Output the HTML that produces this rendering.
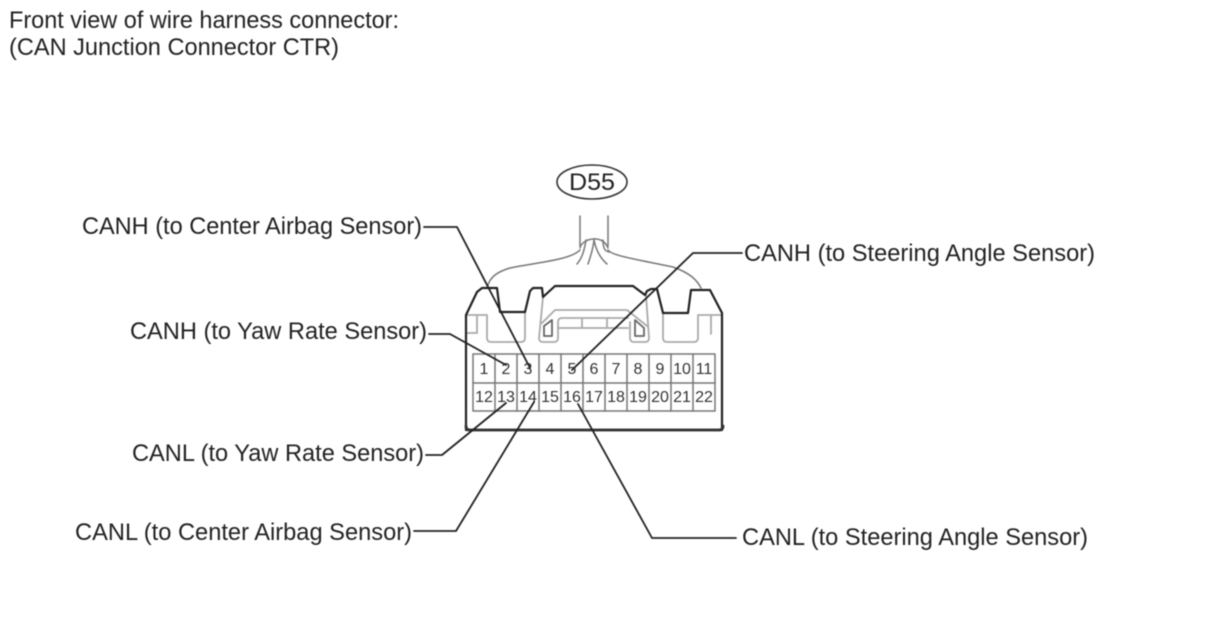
<!DOCTYPE html>
<html><head><meta charset="utf-8"><style>
html,body{margin:0;padding:0;background:#fff;width:1208px;height:644px;overflow:hidden}
svg{display:block;filter:blur(.5px)}
text{font-family:"Liberation Sans",sans-serif;fill:#222}
.l{font-size:24px}
.n{font-size:16px;text-anchor:middle;fill:#333}
</style></head><body>
<svg width="1208" height="644" viewBox="0 0 1208 644" fill="none" stroke-linejoin="round" stroke-linecap="round">
<text class="l" x="9" y="28" textLength="390" lengthAdjust="spacingAndGlyphs">Front view of wire harness connector:</text>
<text class="l" x="9" y="55" textLength="330" lengthAdjust="spacingAndGlyphs">(CAN Junction Connector CTR)</text>
<text class="l" x="82" y="234" textLength="340" lengthAdjust="spacingAndGlyphs">CANH (to Center Airbag Sensor)</text>
<text class="l" x="130" y="339" textLength="297" lengthAdjust="spacingAndGlyphs">CANH (to Yaw Rate Sensor)</text>
<text class="l" x="132" y="461" textLength="292" lengthAdjust="spacingAndGlyphs">CANL (to Yaw Rate Sensor)</text>
<text class="l" x="75" y="540" textLength="337" lengthAdjust="spacingAndGlyphs">CANL (to Center Airbag Sensor)</text>
<text class="l" x="744" y="261" textLength="351" lengthAdjust="spacingAndGlyphs">CANH (to Steering Angle Sensor)</text>
<text class="l" x="742" y="545" textLength="346" lengthAdjust="spacingAndGlyphs">CANL (to Steering Angle Sensor)</text>
<ellipse cx="592" cy="182" rx="35" ry="17" stroke="#333" stroke-width="1.6"/>
<text class="l" x="569" y="190" textLength="46" lengthAdjust="spacingAndGlyphs">D55</text>
<g stroke="#777" stroke-width="1.5">
<path d="M580 216V246M608 216V246"/>
<path d="M580 248C582 238 603 234 608 248"/>
<path d="M586 240C584 252 582 258 577 264M594 240C593 250 590 258 588 264M594 240C596 250 600 258 607 264M603 240C603 250 606 252 610 252"/>
<path d="M580 250C570 260 540 262 510 268C496 272 490 278 488 285"/>
<path d="M608 250C612 256 640 260 673 267C690 273 697 280 701 288"/>
</g>
<g stroke="#aaa" stroke-width="1.8">
<path d="M466 315H487V338Q487 342 491 342H521Q525 342 525 338V313"/>
<path d="M466 333H477V315"/>
<path d="M543 297L539 338Q539 342 543 342H554Q558 342 558 338V322Q558 318 562 318H628"/>
<path d="M542 323L555 310H627L647 326M630 322V338Q630 342 634 342H645Q649 342 649 338L646 295"/>
<path d="M558 328H628M582 318V328M607 318V328"/>
<path d="M544 326L552 320V336H544Z" stroke="#666"/>
<path d="M635 320L644 328V336H635Z" stroke="#666"/>
<path d="M663 313V338Q663 342 667 342H694Q698 342 698 338V315H722M711 315V334M663 313H688"/>
</g>
<path d="M466 430V315L477 292L482 288H497L500 312H525L530 291L533 288H542L543 297L555 286H633L645 295L647 291L651 289H657L663 313H688L691 290H710L722 313V430Z" stroke="#222" stroke-width="2.2"/>
<path d="M466 426Q466 430 470 430H719Q723 430 723 426" stroke="#333" stroke-width="2.8"/>
<g stroke="#777" stroke-width="1.5">
<rect x="473" y="354" width="242" height="57"/>
<path d="M473 383H715M495 354V411M517 354V411M539 354V411M561 354V411M583 354V411M605 354V411M627 354V411M649 354V411M671 354V411M693 354V411"/>
</g>
<g>
<text class="n" x="484" y="374">1</text><text class="n" x="506" y="374">2</text><text class="n" x="528" y="374">3</text><text class="n" x="550" y="374">4</text><text class="n" x="572" y="374">5</text><text class="n" x="594" y="374">6</text><text class="n" x="616" y="374">7</text><text class="n" x="638" y="374">8</text><text class="n" x="660" y="374">9</text><text class="n" x="682" y="374">10</text><text class="n" x="704" y="374">11</text>
<text class="n" x="484" y="402">12</text><text class="n" x="506" y="402">13</text><text class="n" x="528" y="402">14</text><text class="n" x="550" y="402">15</text><text class="n" x="572" y="402">16</text><text class="n" x="594" y="402">17</text><text class="n" x="616" y="402">18</text><text class="n" x="638" y="402">19</text><text class="n" x="660" y="402">20</text><text class="n" x="682" y="402">21</text><text class="n" x="704" y="402">22</text>
</g>
<g stroke="#222" stroke-width="1.8">
<path d="M424 227H457L530 368"/>
<path d="M429 334H450L506 365"/>
<path d="M426 455H442L506 403"/>
<path d="M414 531H456L534 402"/>
<path d="M742 253H693L572 370"/>
<path d="M736 538H652L578 404"/>
</g>
</svg>
</body></html>
